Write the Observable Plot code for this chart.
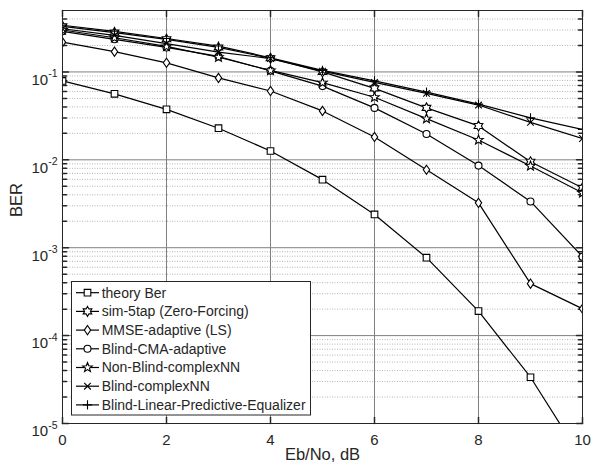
<!DOCTYPE html>
<html><head><meta charset="utf-8">
<script src="https://cdn.jsdelivr.net/npm/d3@7"></script>
<script src="https://cdn.jsdelivr.net/npm/@observablehq/plot@0.6"></script>
<style>
html,body{margin:0;padding:0;background:#fff;}
</style></head><body><div id="chart"></div>
<script>
// ---- data ----
const ebno = [0, 1, 2, 3, 4, 5, 6, 7, 8, 9, 10];
const theoryBer     = [0.079, 0.0563, 0.0375, 0.0229, 0.0126, 0.00595, 0.00239, 0.00077, 0.00019, 0.0000336, 0.0000039];
const sim5tapZF     = [0.33, 0.28, 0.235, 0.19, 0.143, 0.100, 0.065, 0.039, 0.0243, 0.0095, 0.0048];
const mmseAdaptive  = [0.218, 0.170, 0.127, 0.0855, 0.0607, 0.036, 0.0182, 0.0077, 0.00324, 0.00039, 0.000202];
const blindCMA      = [0.29, 0.235, 0.19, 0.15, 0.103, 0.069, 0.039, 0.0197, 0.0086, 0.00336, 0.00079];
const nonBlindNN    = [0.30, 0.245, 0.195, 0.147, 0.104, 0.0755, 0.0515, 0.0294, 0.0168, 0.0085, 0.0042];
const blindNN       = [0.31, 0.26, 0.21, 0.168, 0.142, 0.102, 0.076, 0.057, 0.042, 0.0267, 0.0175];
const blindLPE      = [0.34, 0.29, 0.24, 0.197, 0.145, 0.104, 0.079, 0.059, 0.043, 0.030, 0.0222];
const seriesNames = ["theory Ber", "sim-5tap (Zero-Forcing)", "MMSE-adaptive (LS)", "Blind-CMA-adaptive",
  "Non-Blind-complexNN", "Blind-complexNN", "Blind-Linear-Predictive-Equalizer"];
const xTicks = [0, 2, 4, 6, 8, 10];
const yDecades = [1e-5, 1e-4, 1e-3, 1e-2, 1e-1];
const xLabel = "Eb/No, dB";
const yLabel = "BER";

// ---- style ----
const F = "'Liberation Sans', Arial, Helvetica, sans-serif";
const INK = "#262626";

function star(c, n, R, r) {
  for (let k = 0; k < 2 * n; k++) {
    const a = -Math.PI / 2 + k * Math.PI / n;
    const rr = k % 2 ? r : R;
    const px = rr * Math.cos(a), py = rr * Math.sin(a);
    k ? c.lineTo(px, py) : c.moveTo(px, py);
  }
  c.closePath();
}
const sym = {
  square:   {draw(c) { const h = 3.3; c.moveTo(-h, -h); c.lineTo(h, -h); c.lineTo(h, h); c.lineTo(-h, h); c.closePath(); }},
  diamond:  {draw(c) { c.moveTo(0, -4.6); c.lineTo(3.2, 0); c.lineTo(0, 4.6); c.lineTo(-3.2, 0); c.closePath(); }},
  circle:   {draw(c) { c.moveTo(3.5, 0); c.arc(0, 0, 3.5, 0, 2 * Math.PI); c.closePath(); }},
  hexagram: {draw(c) { star(c, 6, 5, 5 / Math.sqrt(3)); }},
  pentagram:{draw(c) { star(c, 5, 5, 2.1); }},
  times:    {draw(c) { const h = 3.3; c.moveTo(-h, -h); c.lineTo(h, h); c.moveTo(-h, h); c.lineTo(h, -h); }},
  plus:     {draw(c) { const h = 4.6; c.moveTo(-h, 0); c.lineTo(h, 0); c.moveTo(0, -h); c.lineTo(0, h); }}
};
const series = [
  {name: seriesNames[0], values: theoryBer,    symbol: sym.square},
  {name: seriesNames[1], values: sim5tapZF,    symbol: sym.hexagram},
  {name: seriesNames[2], values: mmseAdaptive, symbol: sym.diamond},
  {name: seriesNames[3], values: blindCMA,     symbol: sym.circle},
  {name: seriesNames[4], values: nonBlindNN,   symbol: sym.pentagram},
  {name: seriesNames[5], values: blindNN,      symbol: sym.times},
  {name: seriesNames[6], values: blindLPE,     symbol: sym.plus}
];

// minor log gridlines
const minorY = [];
for (let k = -5; k <= -1; k++) for (let m = 2; m <= 9; m++) { const v = m * Math.pow(10, k); if (v < 0.5) minorY.push(v); }

const tickShape = {draw(c, l) { c.moveTo(0, 0); c.lineTo(0, -l); }};

const marks = [
  Plot.ruleY(minorY, {stroke: "#b4b4b4", strokeDasharray: "1,1.5", strokeWidth: 1}),
  Plot.ruleY(yDecades, {stroke: "#808080", strokeWidth: 1}),
  Plot.ruleX(xTicks, {stroke: "#808080", strokeWidth: 1}),
  // inside ticks
  Plot.vector(yDecades, {x: d => 0, y: d => d, length: 6, rotate: 90, anchor: "start", shape: tickShape, stroke: INK}),
  Plot.vector(yDecades, {x: d => 10, y: d => d, length: 6, rotate: -90, anchor: "start", shape: tickShape, stroke: INK}),
  Plot.vector(minorY, {x: d => 0, y: d => d, length: 4, rotate: 90, anchor: "start", shape: tickShape, stroke: INK}),
  Plot.vector(minorY, {x: d => 10, y: d => d, length: 4, rotate: -90, anchor: "start", shape: tickShape, stroke: INK}),
  Plot.vector(xTicks, {x: d => d, y: d => 1e-5, length: 6, rotate: 0, anchor: "start", shape: tickShape, stroke: INK}),
  Plot.vector(xTicks, {x: d => d, y: d => 0.5, length: 6, rotate: 180, anchor: "start", shape: tickShape, stroke: INK})
];
for (const s of series) {
  const rows = ebno.map((x, i) => ({x, y: s.values[i]}));
  marks.push(Plot.line(rows, {x: "x", y: "y", stroke: "black", strokeWidth: 1.2, clip: true}));
}
for (const s of series) {
  const rows = ebno.map((x, i) => ({x, y: s.values[i]}));
  marks.push(Plot.dot(rows, {x: "x", y: "y", symbol: s.symbol, r: 3, fill: "white", stroke: "black", strokeWidth: 1.1, clip: true}));
}
marks.push(
  Plot.frame({stroke: INK, strokeWidth: 1}),
  Plot.axisY(yDecades, {tickSize: 0, tickPadding: 5, tickFormat: d => String(Math.round(Math.log10(d))), fontSize: 15, fill: INK, label: null}),
  Plot.axisX(xTicks, {tickSize: 0, tickPadding: 11, fontSize: 15, fill: INK, label: null}),
  Plot.text([yLabel], {text: d => d, frameAnchor: "left", dx: -46, rotate: -90, fontSize: 16.5, fill: INK}),
  Plot.text([xLabel], {text: d => d, frameAnchor: "bottom", dy: 36, fontSize: 16.5, fill: INK})
);

const chart = Plot.plot({
  width: 592, height: 472,
  marginLeft: 62, marginRight: 10, marginTop: 10, marginBottom: 49,
  x: {domain: [0, 10]},
  y: {type: "log", domain: [1e-5, 0.5]},
  style: {fontFamily: F, fontSize: "15px", color: INK, background: "white", overflow: "visible"},
  marks
});

// superscript exponents on y tick labels
d3.select(chart).selectAll('g[aria-label="y-axis tick label"] text').each(function() {
  const t = d3.select(this);
  const e = t.text();
  t.text(null).attr("dy", null);
  t.append("tspan").attr("dy", "8").text("10");
  t.append("tspan").attr("dy", "-7.5").attr("font-size", "10.5").text(e);
});

// legend inside the axes
const lg = d3.select(chart).append("g").attr("font-family", F).attr("font-size", 14).attr("text-anchor", "start");
lg.append("rect").attr("x", 71.5).attr("y", 281.5).attr("width", 239).attr("height", 133.5)
  .attr("fill", "white").attr("stroke", INK);
series.forEach((s, i) => {
  const cy = 292.7 + i * 18.7;
  lg.append("line").attr("x1", 76).attr("x2", 99).attr("y1", cy).attr("y2", cy).attr("stroke", "black").attr("stroke-width", 1.2);
  lg.append("path").attr("d", d3.symbol(s.symbol)()).attr("transform", `translate(87.5,${cy})`)
    .attr("fill", "white").attr("stroke", "black").attr("stroke-width", 1.1);
  lg.append("text").attr("x", 101.7).attr("y", cy).attr("dy", "0.35em").attr("text-anchor", "start").attr("fill", INK).text(s.name);
});

document.getElementById("chart").appendChild(chart);
</script>
</body></html>
